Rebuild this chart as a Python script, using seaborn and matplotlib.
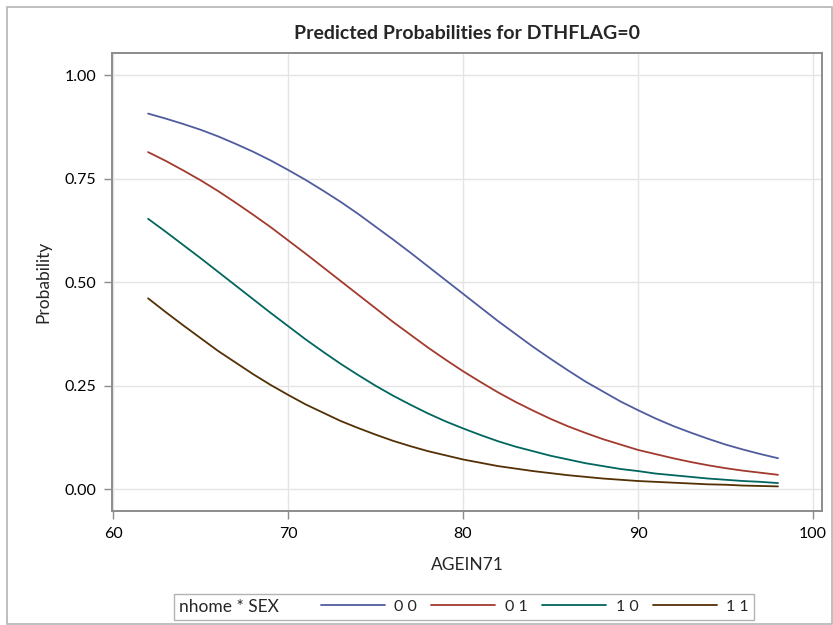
import pandas as pd
import matplotlib.pyplot as plt
import seaborn as sns
from matplotlib.offsetbox import HPacker
from matplotlib.patches import Rectangle

# values
age = list(range(62, 99))
p00 = [0.907, 0.895, 0.882, 0.868, 0.852, 0.834, 0.815, 0.794, 0.771, 0.747,
       0.721, 0.694, 0.665, 0.634, 0.603, 0.571, 0.538, 0.505, 0.472, 0.439,
       0.406, 0.375, 0.344, 0.315, 0.287, 0.260, 0.236, 0.212, 0.191, 0.171,
       0.153, 0.137, 0.122, 0.108, 0.096, 0.085, 0.075]
p01 = [0.814, 0.793, 0.770, 0.746, 0.720, 0.692, 0.663, 0.633, 0.601, 0.569,
       0.536, 0.503, 0.470, 0.437, 0.404, 0.373, 0.342, 0.313, 0.285, 0.259,
       0.234, 0.211, 0.190, 0.170, 0.152, 0.136, 0.121, 0.108, 0.095, 0.085,
       0.075, 0.066, 0.058, 0.051, 0.045, 0.040, 0.035]
p10 = [0.653, 0.622, 0.590, 0.558, 0.525, 0.492, 0.459, 0.426, 0.394, 0.362,
       0.332, 0.303, 0.276, 0.250, 0.226, 0.204, 0.183, 0.164, 0.147, 0.131,
       0.116, 0.103, 0.092, 0.081, 0.072, 0.063, 0.056, 0.049, 0.044, 0.038,
       0.034, 0.030, 0.026, 0.023, 0.020, 0.018, 0.015]
p11 = [0.461, 0.428, 0.396, 0.365, 0.334, 0.306, 0.278, 0.252, 0.228, 0.205,
       0.185, 0.165, 0.148, 0.132, 0.117, 0.104, 0.092, 0.082, 0.072, 0.064,
       0.056, 0.050, 0.044, 0.039, 0.034, 0.030, 0.026, 0.023, 0.020, 0.018,
       0.016, 0.014, 0.012, 0.011, 0.009, 0.008, 0.007]
groups = ['0 0', '0 1', '1 0', '1 1']
colors = ['#4F5C9E', '#A23A2E', '#01665E', '#543005']

df = pd.concat([pd.DataFrame({'AGEIN71': age, 'Probability': p, 'group': g})
                for p, g in zip([p00, p01, p10, p11], groups)])

sns.set_theme(style='white')
plt.rcParams['font.family'] = ['Lato', 'DejaVu Sans']

fig = plt.figure(figsize=(8.33, 6.25), dpi=100)
ax = fig.add_axes([0.1345, 0.182, 0.852, 0.7337])

sns.lineplot(data=df, x='AGEIN71', y='Probability', hue='group', hue_order=groups,
             palette=colors, linewidth=1.3, ax=ax)

ax.set_xlim(59.94, 100.5)
ax.set_ylim(-0.053, 1.054)
ax.set_xticks([60, 70, 80, 90, 100])
ax.set_yticks([0, 0.25, 0.5, 0.75, 1.0])
ax.set_yticklabels(['0.00', '0.25', '0.50', '0.75', '1.00'])
ax.grid(True, color='#e4e4e4', linewidth=1)
ax.set_axisbelow(True)
for s in ax.spines.values():
    s.set_color('#8c8c8c')
    s.set_linewidth(1.4)
ax.tick_params(axis='both', direction='out', length=5.5, width=1, color='#8c8c8c',
               labelsize=11.5, labelcolor='black', left=True, bottom=True, pad=6)
ax.set_xlabel('AGEIN71', fontsize=12.5, labelpad=11)
ax.set_ylabel('Probability', fontsize=12.5, labelpad=9)
ax.set_title('Predicted Probabilities for DTHFLAG=0', fontsize=14, fontweight='bold', pad=10)

# legend with its title on the left, like SAS
ax.get_legend().remove()
handles, labels = ax.get_legend_handles_labels()
leg = fig.legend(handles, labels, title='nhome * SEX', ncol=4, loc='center',
                 bbox_to_anchor=(0.557, 0.029), fontsize=11.5, title_fontsize=12.5,
                 handlelength=4.0, handletextpad=0.6, columnspacing=0.9,
                 frameon=True, fancybox=False, edgecolor='#a0a0a0', borderpad=0.3)
leg.get_frame().set_linewidth(1)
hp = HPacker(children=[leg._legend_title_box, leg._legend_handle_box],
             pad=leg.borderpad * leg._fontsize, sep=30, align='center')
hp.set_figure(fig)
hp.set_offset(leg._findoffset)
leg._legend_box = hp

# outer border
fig.patches.append(Rectangle((7 / 833, 1 / 625), 825 / 833, 617 / 625, transform=fig.transFigure,
                             fill=False, edgecolor='#b4b4b4', linewidth=1.2))

fig.savefig('out.png', dpi=100)
